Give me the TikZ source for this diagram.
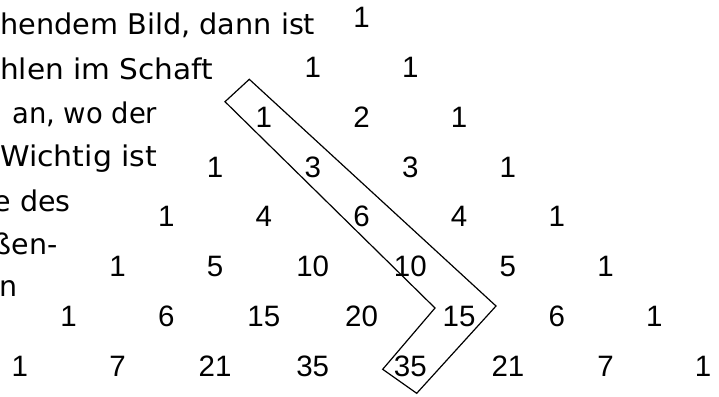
\documentclass[tikz,border=0pt]{standalone}
\usepackage{fontspec}
\usepackage{graphicx}
\newfontfamily\numfont{Liberation Sans}
\newfontfamily\txtfont{DejaVu Sans}
\newcommand{\fitw}[2]{\resizebox{#1}{\height}{#2}}
\begin{document}
\begin{tikzpicture}[x=1pt,y=-1pt,
  num/.style={font=\numfont\fontsize{29.5}{30}\selectfont, inner sep=0pt, anchor=center},
  txt/.style={font=\txtfont\fontsize{28.5}{30}\selectfont, inner sep=0pt, anchor=base west},
  txtr/.style={txt, anchor=base east},
  stick/.style={draw=black, line width=1.2pt, line join=miter}]
\useasboundingbox (0,0) rectangle (719,396);
\clip (0,0) rectangle (719,396);
\fill[white] (0,0) rectangle (719,396);
% left text (cut at the left edge)
\node[txt] (t1) at (0,35) {\fitw{315pt}{hendem Bild, dann ist}};
\node[txt] (t2) at (0,79) {\fitw{213pt}{hlen im Schaft}};
\node[txt] (t3) at (12,123) {\fitw{145pt}{an, wo der}};
\node[txt] (t4) at (0,166.5) {\fitw{157pt}{Wichtig ist}};
\node[txtr] (t5) at (71,211) {e des};
\node[txtr] (t6) at (58,254) {ßen-};
\node[txtr] (t7) at (18,296) {en};
% Pascal triangle
\foreach \k/\vals in {0/{1},1/{1,1},2/{1,2,1},3/{1,3,3,1},4/{1,4,6,4,1},5/{1,5,10,10,5,1},6/{1,6,15,20,15,6,1},7/{1,7,21,35,35,21,7,1}}{
  \foreach \v [count=\j from 0] in \vals {
    \node[num] (n-\k-\j) at ({361.5+(2*\j-\k)*48.8},{17.5+49.8*\k}) {\v};
  }
}
% hockey stick outline
\draw[stick] (249.3,79.3) -- (225,101.7) -- (435,308) -- (382.7,369.3) -- (416.7,393.3) -- (496,306) -- cycle;
\end{tikzpicture}
\end{document}
